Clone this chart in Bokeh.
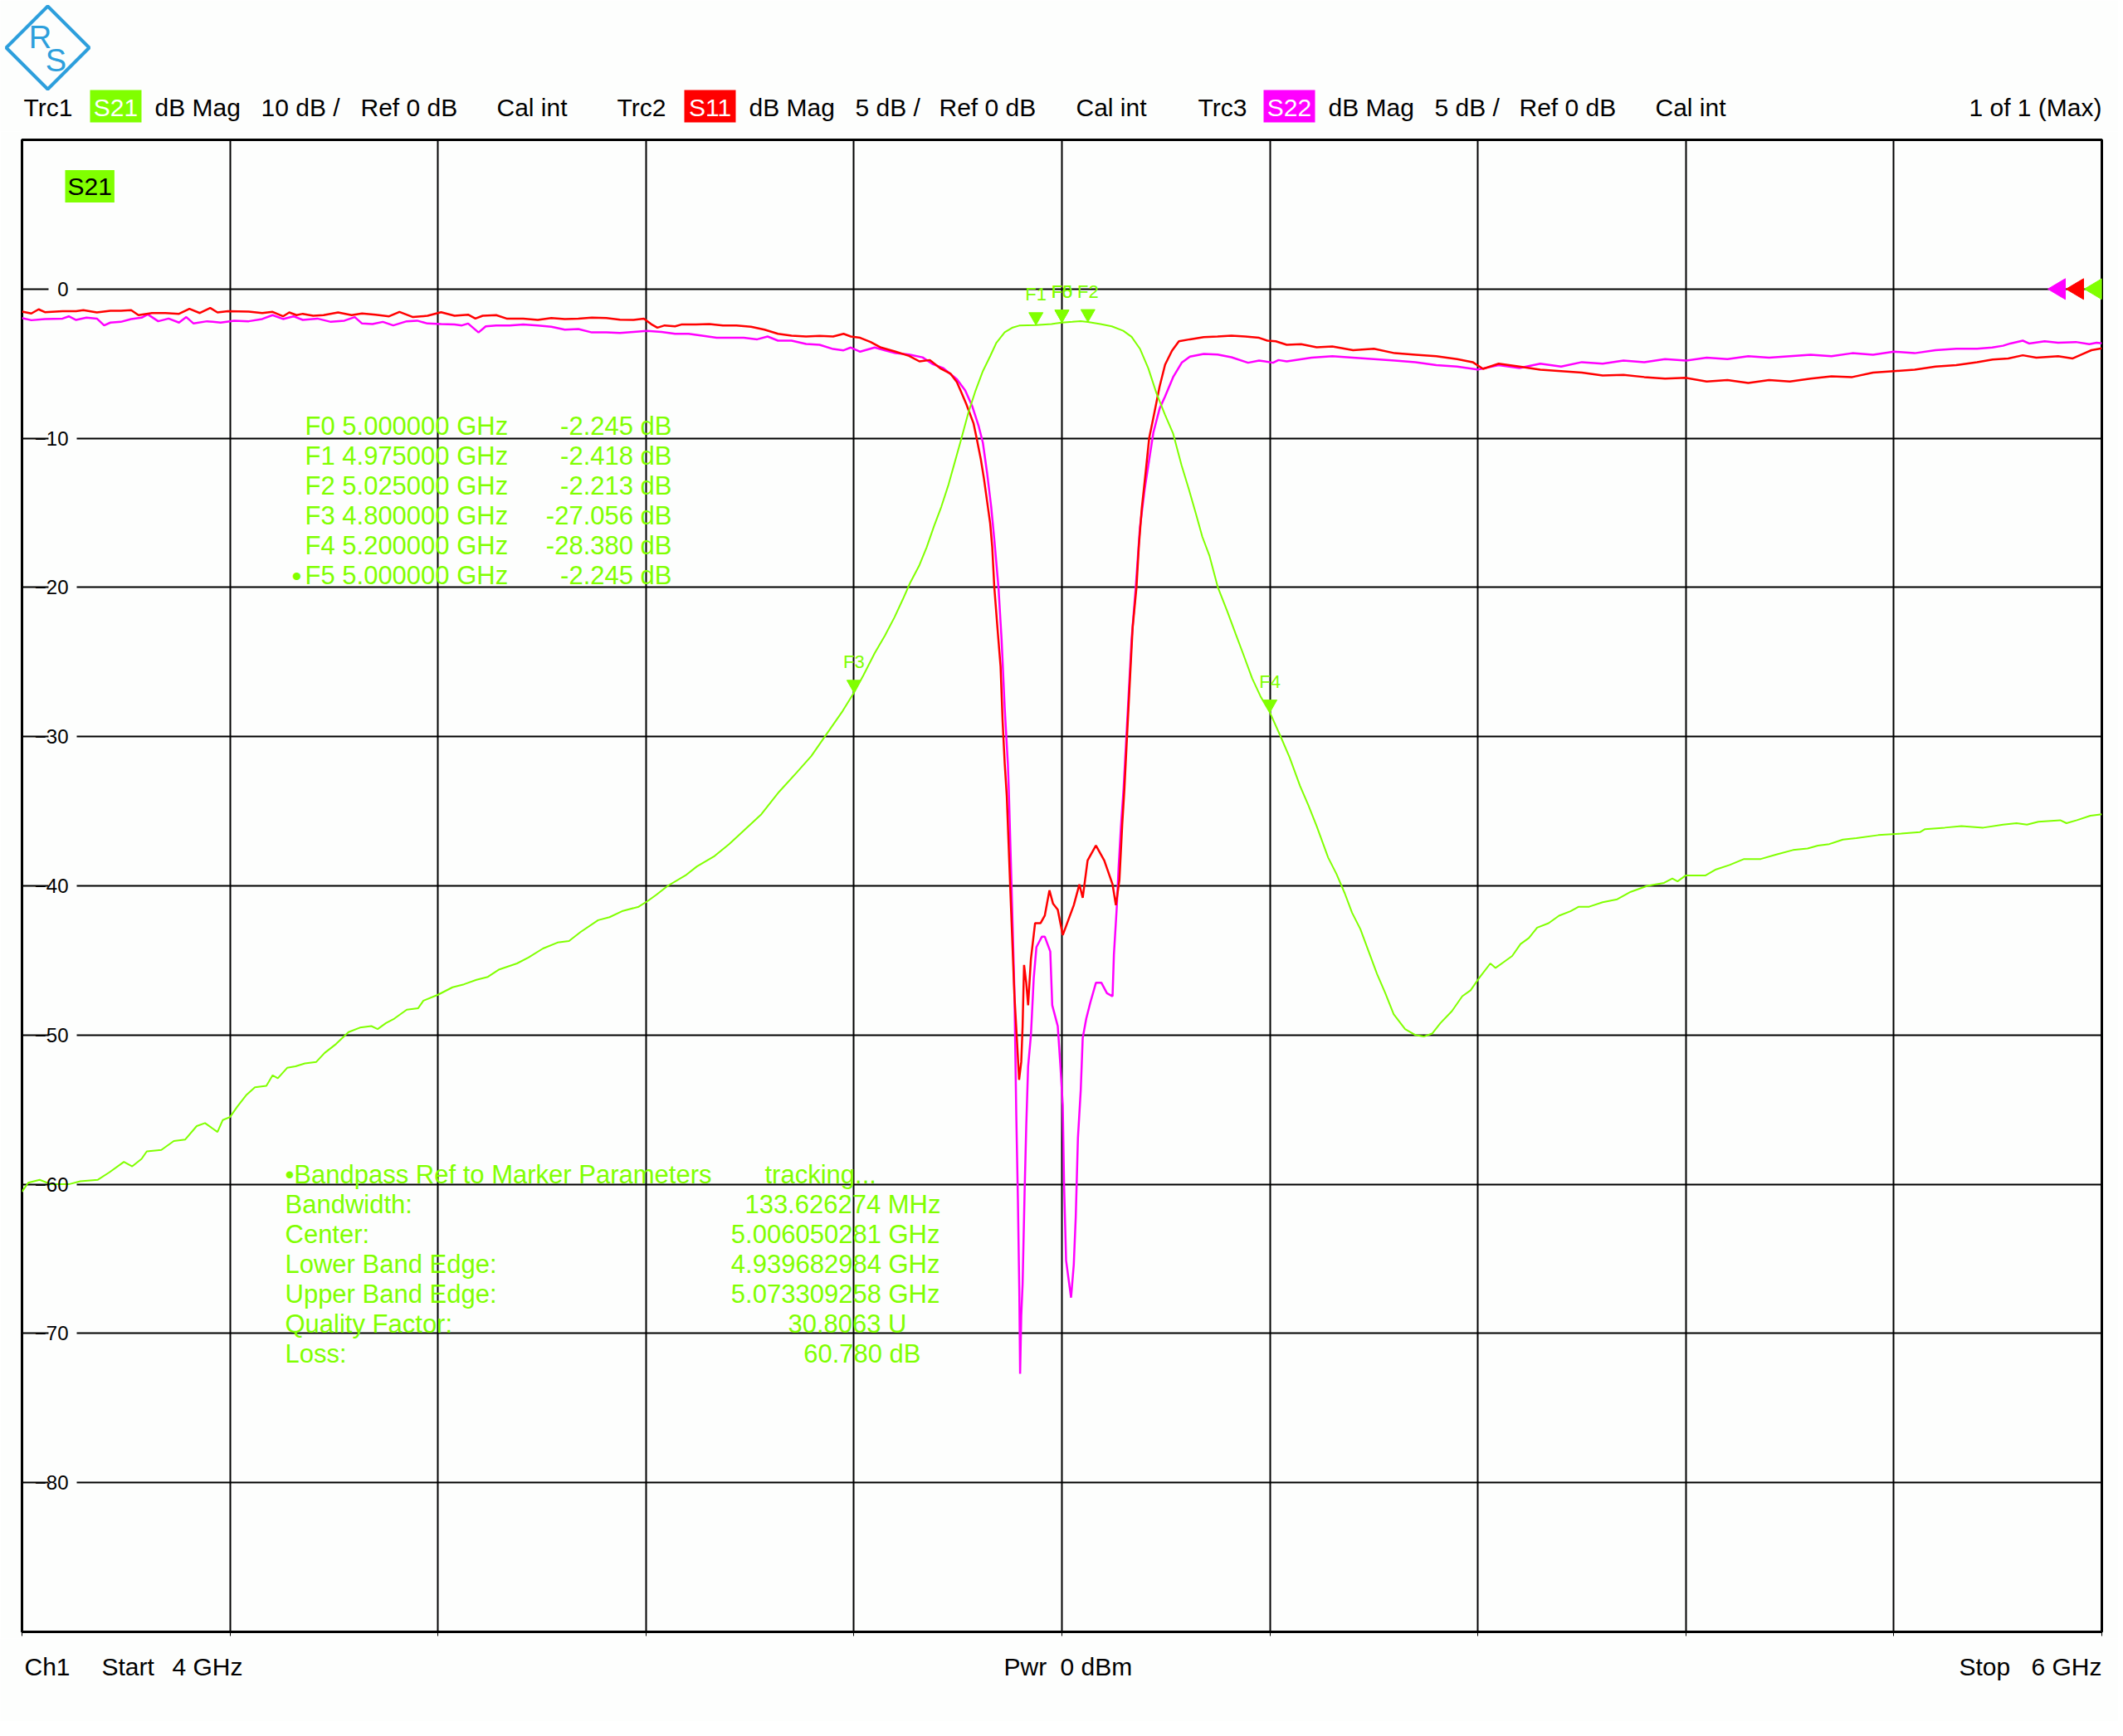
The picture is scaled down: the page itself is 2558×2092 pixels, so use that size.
from bokeh.plotting import figure
from bokeh.layouts import column
from bokeh.models import Label, Range1d, FixedTicker, CustomJSTickFormatter, Plot
from bokeh.embed import file_html
from bokeh.resources import INLINE
from bokeh.core.properties import value

# ---------------- data ----------------
F_START, F_STOP = 4.0, 6.0          # GHz
Y_TOP, Y_BOTTOM = 10, -90           # dB
x_ticks = [4.0, 4.2, 4.4, 4.6, 4.8, 5.0, 5.2, 5.4, 5.6, 5.8, 6.0]
y_ticks = [10, 0, -10, -20, -30, -40, -50, -60, -70, -80, -90]
y_label_ticks = [0, -10, -20, -30, -40, -50, -60, -70, -80]

S21 = [(4.000, -60.5), (4.006, -59.9), (4.017, -59.7), (4.028, -60.0), (4.045, -60.0), (4.056, -59.8),
       (4.073, -59.7), (4.084, -59.2), (4.098, -58.5), (4.106, -58.8), (4.115, -58.3), (4.120, -57.8),
       (4.134, -57.7), (4.146, -57.1), (4.157, -57.0), (4.168, -56.1), (4.176, -55.9), (4.188, -56.5),
       (4.193, -55.7), (4.200, -55.5), (4.207, -54.8), (4.216, -54.0), (4.224, -53.5), (4.235, -53.4),
       (4.241, -52.7), (4.246, -52.9), (4.255, -52.2), (4.263, -52.1), (4.272, -51.9), (4.283, -51.8),
       (4.291, -51.2), (4.302, -50.6), (4.314, -49.8), (4.325, -49.5), (4.336, -49.4), (4.342, -49.6),
       (4.350, -49.2), (4.358, -48.9), (4.370, -48.3), (4.381, -48.2), (4.386, -47.7), (4.400, -47.3),
       (4.414, -46.8), (4.425, -46.6), (4.437, -46.3), (4.448, -46.1), (4.459, -45.6), (4.476, -45.2),
       (4.487, -44.8), (4.501, -44.2), (4.515, -43.8), (4.526, -43.7), (4.537, -43.1), (4.554, -42.3),
       (4.565, -42.1), (4.577, -41.7), (4.593, -41.4), (4.602, -41.0), (4.610, -40.6), (4.621, -40.0),
       (4.638, -39.3), (4.649, -38.7), (4.666, -38.0), (4.680, -37.2), (4.694, -36.3), (4.711, -35.2),
       (4.728, -33.7), (4.745, -32.4), (4.759, -31.3), (4.773, -29.9), (4.778, -29.4), (4.789, -28.3),
       (4.800, -27.056), (4.809, -25.9), (4.820, -24.4), (4.830, -23.2), (4.839, -22.0), (4.847, -20.8),
       (4.854, -19.7), (4.863, -18.5), (4.870, -17.3), (4.877, -15.9), (4.884, -14.6), (4.891, -13.1),
       (4.897, -11.6), (4.903, -10.1), (4.910, -8.3), (4.917, -6.8), (4.924, -5.5), (4.931, -4.5),
       (4.937, -3.6), (4.945, -2.9), (4.952, -2.6), (4.959, -2.45), (4.975, -2.418), (4.990, -2.35),
       (5.000, -2.245), (5.010, -2.2), (5.018, -2.15), (5.025, -2.213), (5.037, -2.35), (5.048, -2.5),
       (5.059, -2.8), (5.067, -3.2), (5.075, -4.0), (5.083, -5.3), (5.091, -7.0), (5.099, -8.4),
       (5.107, -9.7), (5.115, -11.8), (5.122, -13.4), (5.129, -15.1), (5.135, -16.6), (5.142, -17.9),
       (5.150, -20.0), (5.159, -21.6), (5.167, -23.1), (5.174, -24.4), (5.183, -26.1), (5.191, -27.3),
       (5.200, -28.38), (5.211, -30.1), (5.219, -31.4), (5.229, -33.3), (5.237, -34.6), (5.245, -36.0),
       (5.256, -38.1), (5.264, -39.2), (5.272, -40.5), (5.279, -41.8), (5.287, -42.9), (5.295, -44.4),
       (5.303, -45.9), (5.311, -47.2), (5.319, -48.6), (5.330, -49.6), (5.340, -50.0), (5.348, -50.1),
       (5.356, -49.9), (5.364, -49.2), (5.375, -48.4), (5.385, -47.4), (5.393, -47.0), (5.401, -46.2),
       (5.412, -45.2), (5.417, -45.5), (5.425, -45.1), (5.433, -44.7), (5.441, -43.9), (5.449, -43.5),
       (5.457, -42.8), (5.468, -42.5), (5.478, -42.0), (5.489, -41.7), (5.497, -41.4), (5.507, -41.4),
       (5.520, -41.1), (5.534, -40.9), (5.547, -40.4), (5.563, -40.0), (5.579, -39.8), (5.587, -39.5),
       (5.592, -39.7), (5.600, -39.3), (5.619, -39.3), (5.629, -38.9), (5.642, -38.6), (5.656, -38.2),
       (5.672, -38.2), (5.687, -37.9), (5.703, -37.6), (5.717, -37.5), (5.727, -37.3), (5.738, -37.2),
       (5.751, -36.9), (5.764, -36.8), (5.785, -36.6), (5.807, -36.5), (5.825, -36.4), (5.830, -36.2),
       (5.849, -36.1), (5.865, -36.0), (5.886, -36.1), (5.905, -35.9), (5.918, -35.8), (5.928, -35.9),
       (5.939, -35.7), (5.960, -35.6), (5.966, -35.8), (5.976, -35.6), (5.989, -35.3), (6.000, -35.2)]

S11 = [(4.000, -1.51), (4.009, -1.64), (4.016, -1.36), (4.022, -1.55), (4.039, -1.48), (4.052, -1.48),
       (4.059, -1.42), (4.072, -1.57), (4.085, -1.46), (4.095, -1.46), (4.105, -1.42), (4.112, -1.75),
       (4.125, -1.61), (4.138, -1.61), (4.151, -1.66), (4.161, -1.33), (4.171, -1.61), (4.181, -1.27),
       (4.188, -1.57), (4.198, -1.48), (4.218, -1.51), (4.231, -1.61), (4.241, -1.53), (4.251, -1.83),
       (4.257, -1.57), (4.264, -1.75), (4.270, -1.66), (4.280, -1.79), (4.290, -1.75), (4.304, -1.57),
       (4.317, -1.75), (4.327, -1.64), (4.340, -1.72), (4.353, -1.83), (4.363, -1.53), (4.376, -1.88),
       (4.390, -1.79), (4.403, -1.55), (4.416, -1.79), (4.429, -1.72), (4.436, -1.98), (4.443, -1.79),
       (4.456, -1.75), (4.466, -1.98), (4.482, -1.98), (4.496, -2.07), (4.509, -1.94), (4.522, -2.01),
       (4.535, -1.98), (4.548, -1.92), (4.562, -1.94), (4.575, -2.05), (4.588, -2.07), (4.598, -1.98),
       (4.605, -2.35), (4.611, -2.59), (4.618, -2.44), (4.628, -2.50), (4.634, -2.38), (4.648, -2.38),
       (4.661, -2.35), (4.674, -2.44), (4.687, -2.44), (4.701, -2.53), (4.714, -2.72), (4.727, -3.00),
       (4.740, -3.12), (4.754, -3.18), (4.767, -3.14), (4.780, -3.18), (4.790, -3.00), (4.797, -3.18),
       (4.806, -3.27), (4.816, -3.55), (4.826, -3.92), (4.840, -4.20), (4.853, -4.48), (4.863, -4.85),
       (4.873, -4.76), (4.883, -5.31), (4.893, -5.68), (4.899, -6.24), (4.9025, -6.8), (4.908, -7.7),
       (4.915, -9.0), (4.918, -10.0), (4.922, -11.4), (4.925, -12.7), (4.928, -14.2), (4.931, -15.7),
       (4.933, -17.3), (4.935, -20.0), (4.938, -22.7), (4.941, -25.3), (4.943, -29.0), (4.945, -31.8),
       (4.947, -34.0), (4.9503, -40.1), (4.9543, -47.3), (4.9569, -50.5), (4.9588, -53.0), (4.9609, -51.8),
       (4.9622, -49.4), (4.9636, -45.3), (4.9657, -46.5), (4.9675, -48.0), (4.9702, -44.9), (4.9742, -42.5),
       (4.9795, -42.5), (4.9835, -42.0), (4.988, -40.3), (4.9915, -41.2), (4.996, -41.6), (5.0008, -43.3),
       (5.0061, -42.3), (5.0114, -41.3), (5.0168, -39.9), (5.020, -40.8), (5.0247, -38.3), (5.0327, -37.3),
       (5.0407, -38.3), (5.0487, -39.9), (5.0519, -41.3), (5.0553, -39.6), (5.058, -35.9), (5.0601, -33.5),
       (5.0626, -30.0), (5.0654, -26.2), (5.068, -22.7), (5.0717, -20.0), (5.074, -17.2), (5.0768, -14.7),
       (5.0805, -12.3), (5.0839, -10.0), (5.0886, -8.4), (5.0939, -6.55), (5.0992, -5.07), (5.1058, -4.14),
       (5.1125, -3.5), (5.1231, -3.37), (5.1364, -3.22), (5.1497, -3.18), (5.163, -3.13), (5.1763, -3.18),
       (5.1896, -3.27), (5.1976, -3.46), (5.2056, -3.5), (5.2162, -3.74), (5.230, -3.70), (5.245, -3.90),
       (5.260, -3.85), (5.280, -4.10), (5.300, -4.00), (5.320, -4.30), (5.340, -4.40), (5.360, -4.50),
       (5.380, -4.70), (5.395, -4.90), (5.405, -5.35), (5.420, -5.00), (5.440, -5.20), (5.460, -5.40),
       (5.480, -5.50), (5.500, -5.60), (5.520, -5.80), (5.540, -5.75), (5.560, -5.90), (5.580, -6.00),
       (5.600, -5.95), (5.620, -6.20), (5.640, -6.10), (5.660, -6.30), (5.680, -6.10), (5.700, -6.20),
       (5.720, -6.00), (5.740, -5.85), (5.760, -5.90), (5.780, -5.60), (5.800, -5.50), (5.820, -5.40),
       (5.840, -5.20), (5.860, -5.10), (5.880, -4.90), (5.895, -4.72), (5.910, -4.65), (5.924, -4.44),
       (5.937, -4.60), (5.958, -4.50), (5.972, -4.65), (5.982, -4.34), (5.990, -4.10), (6.000, -3.97)]

S22 = [(4.000, -1.94), (4.009, -2.09), (4.022, -2.01), (4.039, -1.98), (4.045, -1.83), (4.052, -2.07),
       (4.062, -1.92), (4.072, -1.98), (4.079, -2.44), (4.085, -2.25), (4.095, -2.20), (4.105, -2.01),
       (4.115, -1.92), (4.121, -1.70), (4.131, -2.16), (4.141, -1.98), (4.151, -2.25), (4.158, -1.88),
       (4.165, -2.31), (4.178, -2.16), (4.191, -2.25), (4.204, -2.12), (4.218, -2.16), (4.231, -2.01),
       (4.241, -1.75), (4.251, -2.01), (4.261, -1.83), (4.270, -2.07), (4.284, -1.98), (4.297, -2.20),
       (4.310, -2.12), (4.320, -1.88), (4.327, -2.31), (4.337, -2.35), (4.347, -2.20), (4.357, -2.44),
       (4.370, -2.16), (4.380, -2.12), (4.390, -2.31), (4.403, -2.35), (4.416, -2.38), (4.423, -2.44),
       (4.429, -2.31), (4.439, -2.91), (4.446, -2.50), (4.456, -2.44), (4.469, -2.44), (4.482, -2.38),
       (4.496, -2.44), (4.509, -2.53), (4.522, -2.72), (4.535, -2.68), (4.548, -2.91), (4.562, -2.91),
       (4.575, -2.94), (4.588, -2.87), (4.601, -2.81), (4.615, -2.87), (4.628, -3.00), (4.641, -3.00),
       (4.654, -3.12), (4.668, -3.27), (4.681, -3.27), (4.694, -3.27), (4.707, -3.37), (4.717, -3.18),
       (4.727, -3.46), (4.740, -3.46), (4.754, -3.68), (4.767, -3.74), (4.780, -4.02), (4.790, -4.11),
       (4.797, -3.92), (4.806, -4.20), (4.820, -3.92), (4.830, -4.11), (4.840, -4.29), (4.853, -4.39),
       (4.866, -4.58), (4.876, -5.04), (4.886, -5.31), (4.899, -6.05), (4.907, -6.8), (4.914, -7.9),
       (4.920, -9.2), (4.924, -10.3), (4.928, -12.3), (4.932, -14.6), (4.935, -16.8), (4.939, -20.0),
       (4.942, -23.5), (4.945, -28.1), (4.948, -31.8), (4.9489, -33.5), (4.9516, -40.1), (4.9543, -47.0),
       (4.9561, -55.3), (4.9577, -61.1), (4.959, -67.0), (4.9598, -72.7), (4.9609, -68.8), (4.9622, -66.7),
       (4.9641, -60.6), (4.9657, -56.1), (4.9675, -52.1), (4.9702, -50.0), (4.9729, -46.2), (4.9755, -44.1),
       (4.9808, -43.4), (4.9835, -43.4), (4.9888, -44.4), (4.9907, -48.0), (4.996, -49.4), (4.9986, -52.1),
       (5.0008, -54.7), (5.0021, -60.1), (5.004, -65.1), (5.0061, -66.2), (5.0088, -67.6), (5.0114, -65.4),
       (5.0133, -62.2), (5.0154, -56.9), (5.0181, -53.7), (5.020, -50.2), (5.0234, -48.9), (5.0274, -47.8),
       (5.0327, -46.5), (5.038, -46.5), (5.0433, -47.2), (5.0487, -47.4), (5.050, -44.6), (5.0527, -41.5),
       (5.0545, -38.8), (5.0567, -36.1), (5.0593, -33.5), (5.062, -30.0), (5.067, -23.5), (5.071, -20.0),
       (5.075, -16.0), (5.0796, -13.4), (5.084, -11.4), (5.088, -9.6), (5.094, -8.0), (5.0992, -7.2),
       (5.1072, -5.87), (5.1152, -4.94), (5.1231, -4.53), (5.1364, -4.35), (5.1497, -4.39), (5.163, -4.57),
       (5.179, -4.94), (5.1896, -4.79), (5.203, -4.94), (5.2083, -4.76), (5.2162, -4.85), (5.240, -4.60),
       (5.260, -4.50), (5.280, -4.60), (5.300, -4.70), (5.320, -4.80), (5.340, -4.90), (5.360, -5.10),
       (5.380, -5.20), (5.400, -5.40), (5.420, -5.10), (5.440, -5.30), (5.460, -5.00), (5.480, -5.20),
       (5.500, -4.90), (5.520, -5.00), (5.540, -4.80), (5.560, -4.90), (5.580, -4.70), (5.600, -4.80),
       (5.620, -4.60), (5.640, -4.70), (5.660, -4.50), (5.680, -4.60), (5.700, -4.50), (5.720, -4.40),
       (5.740, -4.50), (5.760, -4.30), (5.780, -4.40), (5.800, -4.20), (5.820, -4.30), (5.840, -4.10),
       (5.860, -4.00), (5.880, -4.00), (5.8946, -3.92), (5.905, -3.80), (5.912, -3.65), (5.924, -3.46),
       (5.930, -3.65), (5.945, -3.50), (5.958, -3.60), (5.975, -3.55), (5.988, -3.70), (5.995, -3.60),
       (6.000, -3.64)]

marker_names = ["F0", "F1", "F2", "F3", "F4", "F5"]
marker_ghz = [5.000000, 4.975000, 5.025000, 4.800000, 5.200000, 5.000000]
marker_db = [-2.245, -2.418, -2.213, -27.056, -28.380, -2.245]

bp_bandwidth_mhz = 133.626274
bp_center_ghz = 5.006050281
bp_lower_ghz = 4.939682984
bp_upper_ghz = 5.073309258
bp_quality = 30.8063
bp_loss_db = 60.780

trace_names = ["S21", "S11", "S22"]
trace_scale = ["10 dB /", "5 dB /", "5 dB /"]
ref_level_db = [0, 0, 0]
power_dbm = 0

# ---------------- style / layout ----------------
FONT = "Liberation Sans"
GREEN = "#80ff00"
RED = "#ff0000"
MAG = "#ff00ff"
BLUE = "#2d9fdc"
BG = "#fdfefd"

W = 2552
HDR_H = 158
FRAME_W, FRAME_H = 2506, 1798
B_LEFT, B_RIGHT, B_TOP, B_BOTTOM = 26, 20, 10, 8
FTR_H = 100
FRAME_TOP = HDR_H + B_TOP             # page y of frame top (168)
FRAME_BOTTOM = FRAME_TOP + FRAME_H    # page y of frame bottom (1966)
FTR_TOP = FRAME_BOTTOM + B_BOTTOM
GHZ_PER_PX = (F_STOP - F_START) / FRAME_W
DB_PER_PX = (Y_TOP - Y_BOTTOM) / FRAME_H
CAN_UNALIGN = "frame_align" in Plot.properties()


def px_figure(h):
    if CAN_UNALIGN:
        f = figure(width=W, height=h, x_range=Range1d(0, W), y_range=Range1d(h, 0),
                   min_border=0, x_axis_location=None, y_axis_location=None,
                   output_backend="svg", toolbar_location=None)
        f.frame_align = False
    else:
        f = figure(frame_width=FRAME_W, height=h,
                   x_range=Range1d(B_LEFT, B_LEFT + FRAME_W), y_range=Range1d(h, 0),
                   min_border=0, min_border_left=B_LEFT, min_border_right=B_RIGHT,
                   x_axis_location=None, y_axis_location=None,
                   output_backend="svg", toolbar_location=None)
    f.grid.visible = False
    f.outline_line_color = None
    f.background_fill_color = BG
    f.border_fill_color = BG
    return f


def put(f, text, x, y, color="black", size=30, align="left"):
    f.text(x=[x], y=[y], text=[text], text_font=value(FONT), text_font_size=f"{size}px",
           text_color=color, text_align=align, text_baseline="middle")


# ---------------- header ----------------
hdr = px_figure(HDR_H)
HY = 129
badge_colors = [GREEN, RED, MAG]
trc_x = [28, 743, 1443]
badge_x = [108, 824, 1522]
mag_x = [186, 902, 1600]
scale_x = [314, 1030, 1728]
ref_x = [434, 1131, 1830]
cal_x = [598, 1296, 1994]
hdr.quad(left=badge_x, right=[b + 62 for b in badge_x], top=[108] * 3, bottom=[147] * 3,
         fill_color=badge_colors, line_color=None)
for i in range(3):
    put(hdr, f"Trc{i + 1}", trc_x[i], HY)
    put(hdr, trace_names[i], badge_x[i] + 31, HY, color="white", align="center")
    put(hdr, "dB Mag", mag_x[i], HY)
    put(hdr, trace_scale[i], scale_x[i], HY)
    put(hdr, f"Ref {ref_level_db[i]} dB", ref_x[i], HY)
    put(hdr, "Cal int", cal_x[i], HY)
put(hdr, "1 of 1 (Max)", 2532, HY, align="right")
# logo
hdr.patch([57, 107, 57, 7, 57], [7, 57, 107, 57, 7], fill_color=None, line_color=BLUE, line_width=4)
put(hdr, "R", 48, 44, color=BLUE, size=38, align="center")
put(hdr, "S", 67, 72, color=BLUE, size=38, align="center")

# ---------------- main diagram ----------------
p = figure(frame_width=FRAME_W, frame_height=FRAME_H,
           min_border_left=B_LEFT, min_border_right=B_RIGHT,
           min_border_top=B_TOP, min_border_bottom=B_BOTTOM,
           x_range=Range1d(F_START, F_STOP), y_range=Range1d(Y_BOTTOM, Y_TOP),
           output_backend="svg", toolbar_location=None)
if CAN_UNALIGN:
    p.frame_align = False
p.background_fill_color = BG
p.border_fill_color = BG
p.outline_line_color = "black"
p.outline_line_width = 3

p.xaxis.ticker = FixedTicker(ticks=x_ticks)
p.xaxis.formatter = CustomJSTickFormatter(code="return ''")
p.xaxis.major_tick_in = 0
p.xaxis.major_tick_out = 5
p.xaxis.major_tick_line_width = 1
p.xaxis.minor_tick_line_color = None
p.xaxis.axis_line_color = None
p.xaxis.major_label_standoff = 0

p.yaxis.ticker = FixedTicker(ticks=y_ticks)
p.yaxis.major_label_overrides = {10: "", -90: ""}
p.yaxis.major_tick_line_color = None
p.yaxis.minor_tick_line_color = None
p.yaxis.axis_line_color = None
p.yaxis.major_label_standoff = -62
p.yaxis.major_label_text_font = FONT
p.yaxis.major_label_text_font_size = "24px"
p.yaxis.major_label_text_color = "black"

p.xgrid.ticker = FixedTicker(ticks=x_ticks)
p.ygrid.ticker = FixedTicker(ticks=y_ticks)
for g in (p.xgrid, p.ygrid):
    g.grid_line_color = "black"
    g.grid_line_width = 2

# gaps in the grid lines behind the y tick labels
gap_x = F_START + 49 * GHZ_PER_PX
p.rect(x=[gap_x] * len(y_label_ticks), y=y_label_ticks, width=34, height=8,
       width_units="screen", height_units="screen", fill_color=BG, line_color=None)


def unzip(pts):
    return [a for a, _ in pts], [b for _, b in pts]


f22, d22 = unzip(S22)
f11, d11 = unzip(S11)
f21, d21 = unzip(S21)
p.line(f22, d22, line_color=MAG, line_width=2.5)
p.line(f11, d11, line_color=RED, line_width=2.5)
p.line(f21, d21, line_color=GREEN, line_width=2)

# marker triangles (tip on the trace value) and names
hw, h = 8.5 * GHZ_PER_PX, 15 * DB_PER_PX
p.patches([[f - hw, f + hw, f] for f in marker_ghz],
          [[d + h, d + h, d] for d in marker_db],
          fill_color=GREEN, line_color=GREEN)
p.text(x=marker_ghz, y=marker_db, text=marker_names, y_offset=-37,
       text_align="center", text_baseline="middle",
       text_font=value(FONT), text_font_size="22px", text_color=GREEN)

# reference level arrows at the right edge
ref_colors = [GREEN, RED, MAG]
rxs, rys = [], []
for i, lvl in enumerate(ref_level_db):
    base = F_STOP - (22 * i) * GHZ_PER_PX
    tip = base - 21 * GHZ_PER_PX
    rxs.append([base, base, tip])
    rys.append([lvl + 12.5 * DB_PER_PX, lvl - 12.5 * DB_PER_PX, lvl])
p.patches(rxs, rys, fill_color=ref_colors, line_color=ref_colors)

HAS_PAD = "padding" in Label.properties()


def add_label(text, px, py, color="black", size=31, align="left", bg=None, pad=0):
    kw = dict(x=px - B_LEFT, y=FRAME_BOTTOM - py, x_units="screen", y_units="screen",
              text=text, text_font=FONT, text_font_size=f"{size}px", text_color=color,
              text_align=align, text_baseline="middle")
    if bg is not None:
        kw["background_fill_color"] = bg
        if HAS_PAD:
            kw["padding"] = pad
    p.add_layout(Label(**kw))


add_label(trace_names[0], 78, 224, color="black", bg=GREEN, pad=3, size=30)

for i, (n, f, d) in enumerate(zip(marker_names, marker_ghz, marker_db)):
    yy = 513 + 36 * i
    add_label(f"{n} {f:.6f} GHz", 367, yy, color=GREEN)
    add_label(f"{d:.3f} dB", 809, yy, color=GREEN, align="right")
add_label("•", 357, 513 + 36 * 5, color=GREEN, align="center", size=34)

bp_rows = [("Bandwidth:", f"{bp_bandwidth_mhz:.6f} MHz", 1133),
           ("Center:", f"{bp_center_ghz:.9f} GHz", 1132),
           ("Lower Band Edge:", f"{bp_lower_ghz:.9f} GHz", 1132),
           ("Upper Band Edge:", f"{bp_upper_ghz:.9f} GHz", 1132),
           ("Quality Factor:", f"{bp_quality:.4f} U", 1092),
           ("Loss:", f"{bp_loss_db:.3f} dB", 1109)]
add_label("•Bandpass Ref to Marker Parameters", 343, 1415, color=GREEN)
add_label("tracking...", 921, 1415, color=GREEN)
for i, (k, v, xr) in enumerate(bp_rows):
    yy = 1451 + 36 * i
    add_label(k, 343, yy, color=GREEN)
    add_label(v, xr, yy, color=GREEN, align="right")

# ---------------- footer ----------------
ftr = px_figure(FTR_H)
FY = 2008 - FTR_TOP
put(ftr, "Ch1", 29, FY)
put(ftr, "Start", 122, FY)
put(ftr, f"{F_START:g} GHz", 207, FY)
put(ftr, "Pwr", 1209, FY)
put(ftr, f"{power_dbm} dBm", 1277, FY)
put(ftr, "Stop", 2360, FY)
put(ftr, f"{F_STOP:g} GHz", 2532, FY, align="right")

layout = column(hdr, p, ftr, spacing=0)
open("out.html", "w").write(file_html(layout, INLINE))
